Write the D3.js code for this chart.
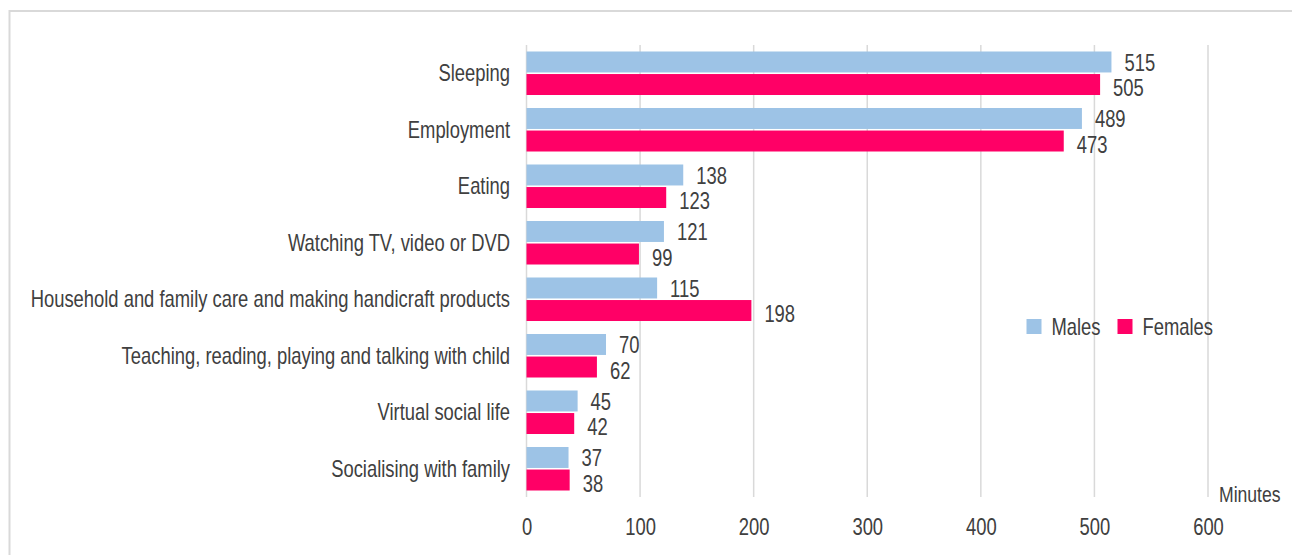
<!DOCTYPE html>
<html><head><meta charset="utf-8">
<script src="https://cdn.jsdelivr.net/npm/d3@7"></script>
<style>
html,body{margin:0;padding:0;background:#fff;}
svg text{font-family:"Liberation Sans","Arial",sans-serif;fill:#404040;}
</style></head>
<body>
<svg id="chart" width="1292" height="555"></svg>
<script>
const categories = ["Sleeping","Employment","Eating","Watching TV, video or DVD","Household and family care and making handicraft products","Teaching, reading, playing and talking with child","Virtual social life","Socialising with family"];
const males = [515,489,138,121,115,70,45,37];
const females = [505,473,123,99,198,62,42,38];
const seriesNames = ["Males","Females"];
const seriesColors = ["#9dc3e6","#ff0066"];
const xTicks = [0,100,200,300,400,500,600];
const axisTitle = "Minutes";

const FS = 23;
const svg = d3.select("#chart");
svg.append("rect").attr("x",9.5).attr("y",11).attr("width",1300).attr("height",600)
  .attr("fill","none").attr("stroke","#d9d9d9").attr("stroke-width",2);

const x = d3.scaleLinear().domain([0,600]).range([526.5,1208]);
const y = d3.scaleBand().domain(categories).range([45,497]).paddingInner(0.23).paddingOuter(0.115);
const ySub = d3.scaleBand().domain(seriesNames).range([0,y.bandwidth()]).paddingInner(0.07);

svg.append("g").selectAll("line").data(xTicks).join("line")
  .attr("x1",d=>x(d)).attr("x2",d=>x(d)).attr("y1",45).attr("y2",497)
  .attr("stroke","#d9d9d9").attr("stroke-width",1.5);

const xAxis = d3.axisBottom(x).tickValues(xTicks).tickSize(0).tickPadding(0);
const gx = svg.append("g").attr("transform","translate(0,535)").call(xAxis);
gx.select(".domain").remove();
gx.selectAll("text").attr("font-size",FS).attr("dy",0).style("font-family",null);

const yAxis = d3.axisLeft(y).tickSize(0).tickPadding(16.5);
const gy = svg.append("g").attr("transform","translate(526.5,0)").call(yAxis);
gy.select(".domain").remove();
gy.selectAll("text").attr("font-size",FS).attr("dy","0.35em").style("font-family",null);

const data = categories.map((c,i)=>({c, vals:[males[i],females[i]]}));
const groups = svg.append("g").selectAll("g").data(data).join("g")
  .attr("transform",d=>`translate(0,${y(d.c)})`);
groups.selectAll("rect").data(d=>d.vals.map((v,j)=>({v,s:seriesNames[j],j}))).join("rect")
  .attr("x",x(0)).attr("y",d=>ySub(d.s)).attr("width",d=>x(d.v)-x(0)).attr("height",ySub.bandwidth())
  .attr("fill",d=>seriesColors[d.j]);
groups.selectAll("text").data(d=>d.vals.map((v,j)=>({v,s:seriesNames[j],j}))).join("text")
  .attr("x",d=>x(d.v)+13).attr("y",d=>ySub(d.s)+ySub.bandwidth()/2 + (d.j===0?0.5:3.5))
  .attr("dy","0.35em").attr("font-size",FS).text(d=>d.v);

const leg = svg.append("g");
const legItems = [{n:"Males",x:1026.5},{n:"Females",x:1117.5}];
legItems.forEach((it,i)=>{
  leg.append("rect").attr("x",it.x).attr("y",319).attr("width",15).attr("height",15).attr("fill",seriesColors[i]);
  leg.append("text").attr("x",it.x+25).attr("y",327).attr("dy","0.35em").attr("font-size",FS).text(it.n);
});

svg.append("text").attr("x",1219).attr("y",494).attr("dy","0.35em").attr("font-size",22).text(axisTitle);

// condense all texts horizontally to mimic a narrow font
const K = 0.80;
svg.selectAll("text").each(function(){
  const t = d3.select(this);
  const ax = +t.attr("x") || 0;
  t.attr("x", ax / K).attr("transform", `scale(${K},1)`);
});
</script>
</body></html>
